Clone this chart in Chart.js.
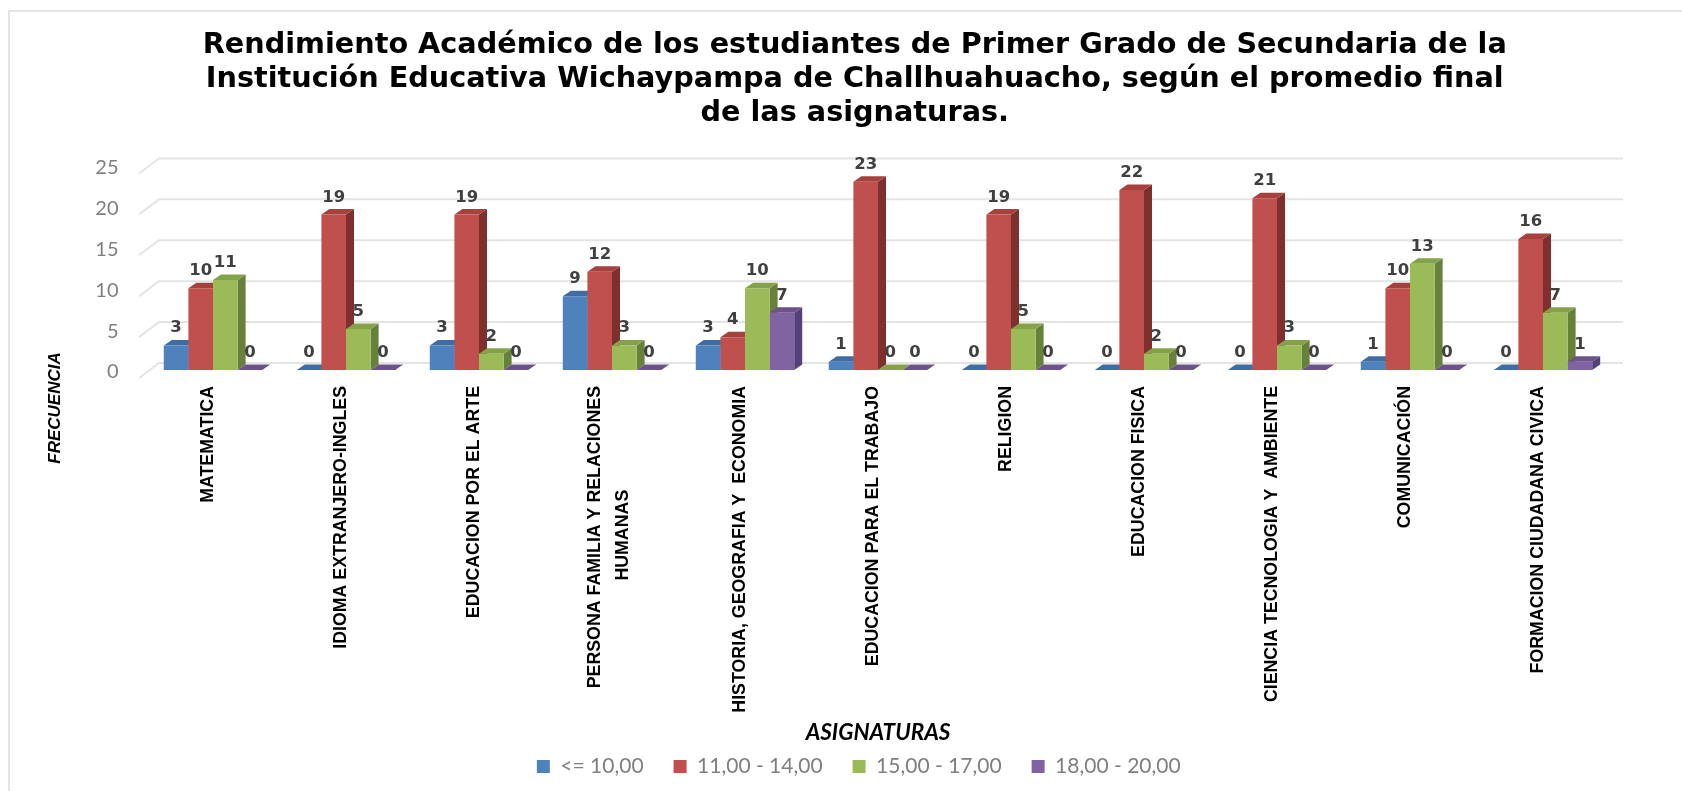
<!DOCTYPE html>
<html><head><meta charset="utf-8">
<style>html,body{margin:0;background:#fff}#w{position:absolute;left:0;top:0;width:1682px;height:791px;overflow:hidden}
#f{position:absolute;left:8px;top:10px;width:1700px;height:800px;border:2px solid #e4e4e4;box-sizing:border-box}
canvas{position:absolute;left:0;top:0;filter:blur(.6px)}</style>
</head><body><div id="w"><div id="f"></div><canvas id="c" width="1682" height="791"></canvas></div>
<script src="https://cdn.jsdelivr.net/npm/chart.js@4"></script>
<script>
const categories=["MATEMATICA","IDIOMA EXTRANJERO-INGLES","EDUCACION POR EL ARTE",["PERSONA FAMILIA Y RELACIONES","HUMANAS"],"HISTORIA, GEOGRAFIA Y  ECONOMIA","EDUCACION PARA EL TRABAJO","RELIGION","EDUCACION FISICA","CIENCIA TECNOLOGIA Y  AMBIENTE","COMUNICACIÓN","FORMACION CIUDADANA CIVICA"];
const seriesNames=["<= 10,00","11,00 - 14,00","15,00 - 17,00","18,00 - 20,00"];
const low=[3,0,3,9,3,1,0,0,0,1,0];
const mid=[10,19,19,12,4,23,19,22,21,10,16];
const high=[11,5,2,3,10,0,5,2,3,13,7];
const top4=[0,0,0,0,7,0,0,0,0,0,1];
const yTicks=[0,5,10,15,20,25];
const titleLines=["Rendimiento Académico de los estudiantes de Primer Grado de Secundaria de la","Institución Educativa Wichaypampa de Challhuahuacho, según el promedio final","de las asignaturas."];
const fills=["#4f81bd","#c0504d","#9bbb59","#8064a2"];
const tops=["#3f6ca3","#a5413e","#85a24a","#6b5289"];
const sides=["#38618f","#7f2f2d","#67803a","#54407a"];
const dx=8,dy=5.5;
const depth={id:"depth",
 afterLayout(ch){ch.scales.y.left=40;ch.legend.left+=4;ch.legend.right+=4;},
 beforeDraw(ch){ch.scales.x.getLabelItems().forEach(it=>{if(Array.isArray(it.label)&&!it.moved){it.options.translation[0]-=12;it.moved=true;}});
   ch.scales.y.getLabelItems().forEach(it=>{if(!it.moved){it.options.translation[1]+=2;it.moved=true;}});},
 beforeDatasetsDraw(ch){const {ctx,scales:{x,y}}=ch;ctx.save();
  ctx.strokeStyle="#e4e4e4";ctx.lineWidth=2;
  const L=x.left-7.5,R=1623;
  yTicks.forEach(v=>{const p=y.getPixelForValue(v);ctx.beginPath();ctx.moveTo(L,p+8);ctx.lineTo(L+20,p-7);ctx.lineTo(R,p-7);ctx.stroke();});
  ctx.restore();
  for(let d=0;d<4;d++){ch.getDatasetMeta(d).data.forEach(b=>{const w=b.width,l=b.x-w/2,r=b.x+w/2,t=b.y,bs=b.base;
    ctx.fillStyle=sides[d];ctx.beginPath();ctx.moveTo(r,t);ctx.lineTo(r+dx,t-dy);ctx.lineTo(r+dx,bs-dy);ctx.lineTo(r,bs);ctx.fill();
    ctx.fillStyle=tops[d];ctx.beginPath();ctx.moveTo(l,t);ctx.lineTo(l+dx,t-dy);ctx.lineTo(r+dx,t-dy);ctx.lineTo(r,t);ctx.fill();
  });}
 },
 afterDatasetsDraw(ch){const {ctx}=ch;ctx.save();ctx.font="bold 16.5px 'DejaVu Sans'";ctx.fillStyle="#404040";ctx.textAlign="center";ctx.textBaseline="alphabetic";
  ch.data.datasets.forEach((ds,d)=>{ch.getDatasetMeta(d).data.forEach((b,i)=>{ctx.fillText(ds.data[i],b.x,b.y-13);});});
  ctx.font="italic bold 17px 'Liberation Sans Narrow','Liberation Sans'";ctx.fillStyle="#000";
  ctx.translate(54,408);ctx.rotate(-Math.PI/2);ctx.fillText("FRECUENCIA",0,6);
  ctx.restore();}
};
new Chart(document.getElementById("c"),{type:"bar",
 data:{labels:categories,datasets:[low,mid,high,top4].map((v,i)=>({label:seriesNames[i],data:v,backgroundColor:fills[i],categoryPercentage:.74,barPercentage:1}))},
 plugins:[depth],
 options:{responsive:false,animation:false,
  layout:{padding:{left:100,right:72.5,top:28,bottom:4}},
  scales:{
   x:{grid:{display:false},border:{display:false},
      afterFit(s){s.height=356;},
      ticks:{autoSkip:false,maxRotation:90,minRotation:90,padding:8,labelOffset:-5,color:"#000",
        font:{family:"'Liberation Sans Narrow','Liberation Sans'",weight:"bold",size:17.8,lineHeight:1.6},
        callback(v,i){const c=categories[i];return Array.isArray(c)?[c[0],c[1]+"\u00a0".repeat(21)]:c;}},
      title:{display:true,text:"ASIGNATURAS",color:"#000",font:{family:"Lato",style:"italic",weight:"bold",size:22.5},padding:{top:0,bottom:-20}}},
   y:{min:0,max:25,grid:{display:false},border:{display:false},
      afterFit(s){s.width=46.5;},
      afterBuildTicks(s){s.ticks=yTicks.map(v=>({value:v}));},
      ticks:{color:"#7f7f7f",padding:20,font:{family:"Lato",size:20}}}
  },
  plugins:{
   title:{display:true,text:titleLines,color:"#000",font:{family:"'DejaVu Sans'",weight:"bold",size:28.7,lineHeight:1.19},padding:{top:0,bottom:35}},
   legend:{position:"bottom",labels:{boxWidth:13,boxHeight:13,color:"#7f7f7f",padding:30,font:{family:"Lato",size:21}}},
   tooltip:{enabled:false}
  }}});
</script></body></html>
